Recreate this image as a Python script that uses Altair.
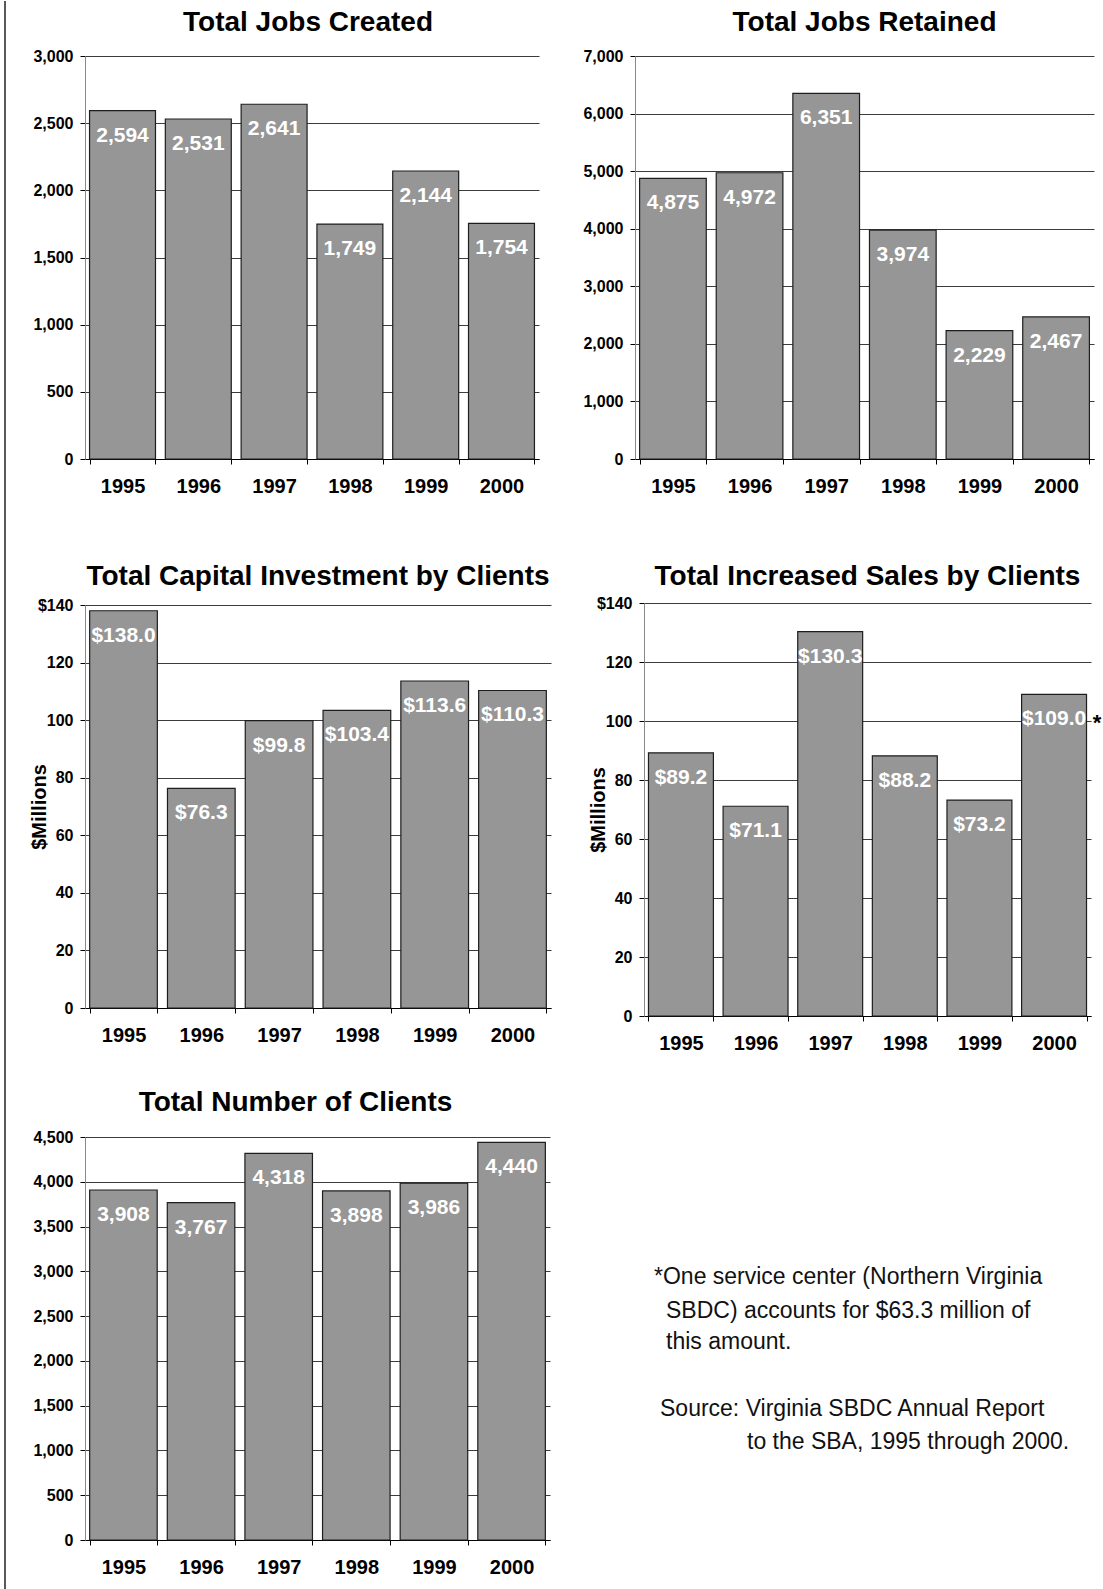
import altair as alt
import pandas as pd

years = ["1995", "1996", "1997", "1998", "1999", "2000"]
jobs_created = [2594, 2531, 2641, 1749, 2144, 1754]
jobs_retained = [4875, 4972, 6351, 3974, 2229, 2467]
capital_investment = [138.0, 76.3, 99.8, 103.4, 113.6, 110.3]
increased_sales = [89.2, 71.1, 130.3, 88.2, 73.2, 109.0]
clients = [3908, 3767, 4318, 3898, 3986, 4440]

note_lines = [
    "*One service center (Northern Virginia",
    "SBDC) accounts for $63.3 million of",
    "this amount.",
    "Source: Virginia SBDC Annual Report",
    "to the SBA, 1995 through 2000.",
]

SANS = "Liberation Sans, Arial, Helvetica, sans-serif"
BAR_FILL = "#969696"
BAR_STROKE = "#1e1e1e"


def panel(values, title, ymax, ystep, width, height, label_fmt, money,
          title_offset, title_dx=0, spacer_below=None, spacer_left=None,
          asterisk=False):
    df = pd.DataFrame({"year": years, "value": values})
    x_enc = alt.X(
        "year:N", sort=years, title=None,
        scale=alt.Scale(paddingInner=0.13, paddingOuter=0.06),
        axis=alt.Axis(labelAngle=0, tickBand="extent", labelFont=SANS,
                      labelFontSize=20, labelFontWeight="bold",
                      labelColor="black", labelPadding=12, tickSize=5,
                      tickColor="black", domainColor="black",
                      domainWidth=1.2, grid=False),
    )
    ax = dict(values=list(range(0, ymax + 1, ystep)), format=",d",
              labelFont=SANS, labelFontSize=16, labelFontWeight="bold",
              labelColor="black", labelPadding=7, tickSize=5,
              tickColor="black", domainColor="#888888", grid=True,
              gridColor="#3c3c3c", gridWidth=1)
    if money:
        ax.update(labelExpr=f"datum.value == {ymax} ? '$' + datum.label : datum.label",
                  titleFont=SANS, titleFontSize=20, titleFontWeight="bold",
                  titleColor="black", titlePadding=6, minExtent=30, maxExtent=30)
        y_enc = alt.Y("value:Q", title="$Millions",
                      scale=alt.Scale(domain=[0, ymax], nice=False),
                      axis=alt.Axis(**ax))
    else:
        y_enc = alt.Y("value:Q", title=None,
                      scale=alt.Scale(domain=[0, ymax], nice=False),
                      axis=alt.Axis(**ax))

    base = alt.Chart(df)
    bars = base.mark_bar(color=BAR_FILL, stroke=BAR_STROKE, strokeWidth=1.2).encode(
        x=x_enc, y=y_enc)
    labels = base.mark_text(color="white", font=SANS, fontSize=21,
                            fontWeight="bold", baseline="middle", dy=25).encode(
        x=alt.X("year:N", sort=years), y="value:Q",
        text=alt.Text("value:Q", format=label_fmt))
    layers = [bars, labels]
    if asterisk:
        star = alt.Chart(df.iloc[[5]]).mark_text(
            text="*", font=SANS, fontSize=22, fontWeight="bold", color="black",
            baseline="middle", dx=43, dy=29).encode(
            x=alt.X("year:N", sort=years), y="value:Q")
        layers.append(star)
    if spacer_below is not None:
        sp = alt.Chart(pd.DataFrame({"s": [0]})).mark_rule(strokeOpacity=0).encode(
            x=alt.value(0), y=alt.value(height), y2=alt.value(spacer_below))
        layers.append(sp)
    if spacer_left is not None:
        sp = alt.Chart(pd.DataFrame({"s": [0]})).mark_rule(strokeOpacity=0).encode(
            x=alt.value(-spacer_left), x2=alt.value(0), y=alt.value(height / 2))
        layers.append(sp)
    return alt.layer(*layers).properties(
        width=width, height=height,
        title=alt.TitleParams(text=title, font=SANS, fontSize=28,
                              fontWeight="bold", color="black",
                              anchor="middle", frame="group", dx=title_dx,
                              offset=title_offset))


p1 = panel(jobs_created, "Total Jobs Created", 3000, 500, 454, 403, ",d",
           False, 11, title_dx=-4, spacer_below=473)
p2 = panel(jobs_retained, "Total Jobs Retained", 7000, 1000, 459, 403, ",d",
           False, 11)
p3 = panel(capital_investment, "Total Capital Investment by Clients", 140, 20,
           466, 403, "$.1f", True, 6)
p4 = panel(increased_sales, "Total Increased Sales by Clients", 140, 20,
           447, 413, "$.1f", True, 4, spacer_left=62, asterisk=True)
p5 = panel(clients, "Total Number of Clients", 4500, 500, 465, 403, ",d",
           False, 12, title_dx=-22)

note_x = [72, 84, 84, 78, 165]
note_y = [197, 231, 262, 329, 362]
note_layers = []
for line, nx, ny in zip(note_lines, note_x, note_y):
    note_layers.append(
        alt.Chart(pd.DataFrame({"t": [line]})).mark_text(
            font=SANS, fontSize=23, align="left", baseline="alphabetic",
            color="#111111").encode(text="t:N", x=alt.value(nx), y=alt.value(ny)))
notes = alt.layer(*note_layers).properties(width=480, height=400)

inner = alt.concat(p1, p2, p3, p4, p5, notes, columns=2,
                   spacing={"row": 34, "column": 31}, align="none",
                   bounds="full")

border = alt.Chart(pd.DataFrame({"b": [0]})).mark_rule(
    color="#222222", strokeWidth=1.5).encode(
    x=alt.value(0), y=alt.value(-55), y2=alt.value(1534)).properties(
    width=1, height=403)

chart = alt.hconcat(border, inner, spacing=23).properties(
    padding={"left": 4, "top": 0, "right": 0, "bottom": 0},
    background="white",
).configure_view(strokeWidth=0)

chart.save("out.html", embed_options={"renderer": "svg", "actions": False})
